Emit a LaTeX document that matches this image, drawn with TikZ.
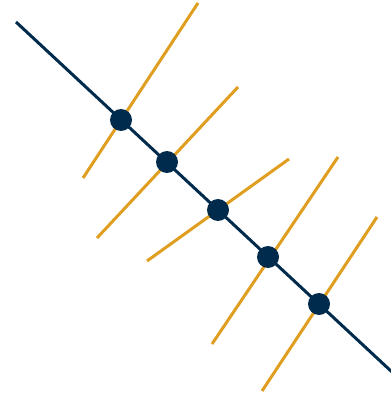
\documentclass[tikz,border=0pt]{standalone}
\usepackage{xcolor}
\usepackage{tikz}
\usetikzlibrary{calc}

\definecolor{navy}{RGB}{0,43,77}
\definecolor{amber}{RGB}{224,158,32}

\begin{document}
\begin{tikzpicture}[
  x=1pt, y=-1pt,
  dot/.style={circle, fill=navy, inner sep=0pt, minimum size=22pt},
  axis/.style={navy, line width=3pt},
  cut/.style={amber, line width=3pt}
]
  \useasboundingbox (0,0) rectangle (390,395);

  % ends of the dark line
  \coordinate (top) at (16,22);
  \coordinate (bot) at (392,372);

  % ends of the orange lines
  \coordinate (a1) at (83,178);  \coordinate (b1) at (198,3);
  \coordinate (a2) at (97,238);  \coordinate (b2) at (238,87);
  \coordinate (a3) at (147,261); \coordinate (b3) at (289,159);
  \coordinate (a4) at (212,344); \coordinate (b4) at (338,157);
  \coordinate (a5) at (262,391); \coordinate (b5) at (377,217);

  \foreach \i in {1,...,5}
    \draw[cut] (a\i) -- (b\i);

  \draw[axis] (top) -- (bot);

  \node[dot] (p1) at (121,120) {};
  \node[dot] (p2) at (167,162) {};
  \node[dot] (p3) at (218,210) {};
  \node[dot] (p4) at (268,257) {};
  \node[dot] (p5) at (319,304) {};
\end{tikzpicture}
\end{document}
